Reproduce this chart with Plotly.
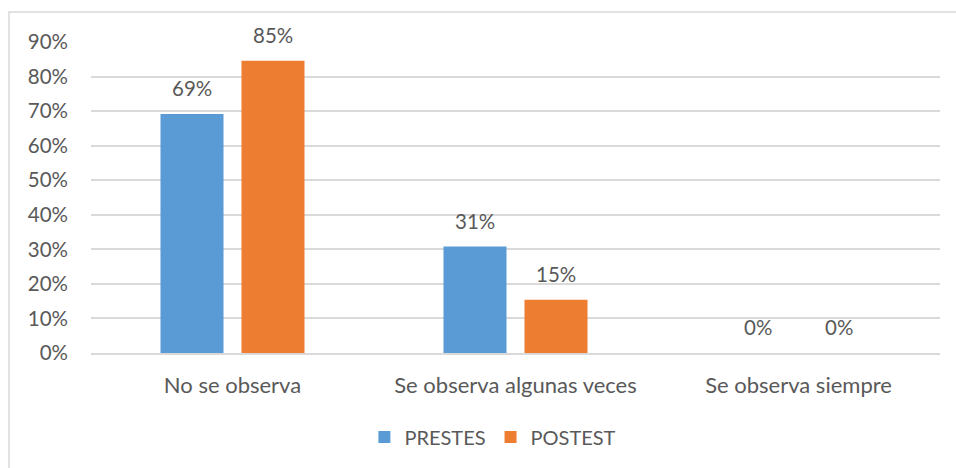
import plotly.graph_objects as go

categories = ["No se observa", "Se observa algunas veces", "Se observa siempre"]
prestes = [0.692, 0.308, 0.0]
postest = [0.846, 0.154, 0.0]
series_names = ["PRESTES", "POSTEST"]
tick_vals = [0, 0.1, 0.2, 0.3, 0.4, 0.5, 0.6, 0.7, 0.8, 0.9]
tick_text = ["0%", "10%", "20%", "30%", "40%", "50%", "60%", "70%", "80%", "90%"]

FONT = "Lato"
TXT = "#595959"
GRID = "#D9D9D9"
COLORS = ["#5B9BD5", "#ED7D31"]

fig = go.Figure()
for name, vals, col in zip(series_names, [prestes, postest], COLORS):
    fig.add_trace(go.Bar(name=name, x=categories, y=vals, marker_color=col,
                         marker_line_width=0))

# data labels above bars
annotations = []
for offset, vals in zip([-40.5, 40.5], [prestes, postest]):
    for c, v in zip(categories, vals):
        annotations.append(dict(x=c, y=v, xref="x", yref="y", text=f"{round(v*100)}%",
                                showarrow=False, xshift=offset, yshift=12,
                                yanchor="bottom", xanchor="center",
                                font=dict(family=FONT, size=20.5, color=TXT)))

fig.update_layout(
    width=956, height=468,
    margin=dict(l=91, r=16, t=42, b=115),
    paper_bgcolor="white", plot_bgcolor="white",
    barmode="group", bargap=0.4276, bargroupgap=0.222,
    font=dict(family=FONT, size=20, color=TXT),
    showlegend=True,
    legend=dict(orientation="h", x=0.322, xanchor="left", y=-0.27, yanchor="middle",
                font=dict(family=FONT, size=20, color=TXT), itemwidth=30,
                traceorder="normal"),
    yaxis=dict(range=[0, 0.9], tickvals=tick_vals, ticktext=tick_text,
               showgrid=True, gridcolor=GRID, gridwidth=1.5, zeroline=False,
               showline=False, ticks="", ticklabelstandoff=22, automargin=False,
               tickfont=dict(family=FONT, size=20.5, color=TXT)),
    xaxis=dict(showline=True, linecolor=GRID, linewidth=1.5, ticks="", automargin=False,
               tickfont=dict(family=FONT, size=22, color=TXT), ticklabelstandoff=12),
    annotations=annotations,
    shapes=[dict(type="rect", xref="paper", yref="paper",
                 x0=-0.0966, x1=1.03, y0=-0.40, y1=1.0965,
                 line=dict(color=GRID, width=1.5), fillcolor="rgba(0,0,0,0)", layer="below")],
)

fig.write_html("out.html", config={"displayModeBar": False},
               post_script="document.body.style.margin='0';document.body.style.overflow='hidden';")
